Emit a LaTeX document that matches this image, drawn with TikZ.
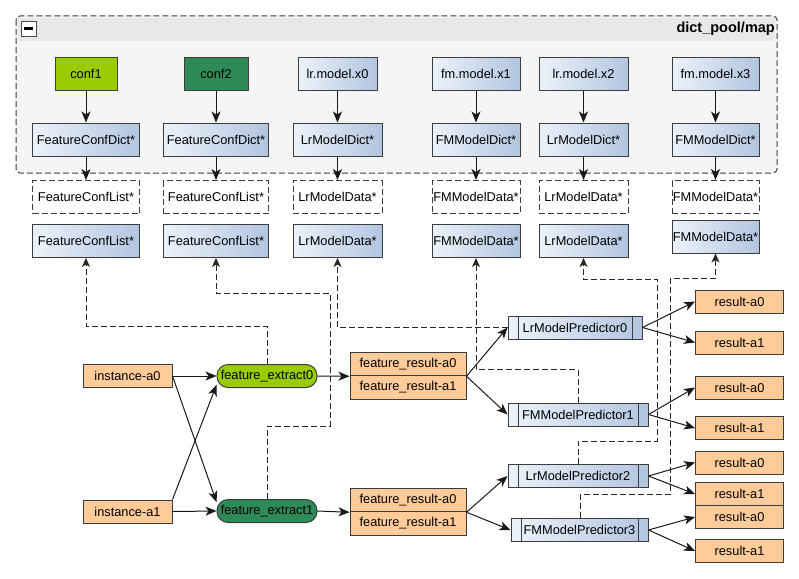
\documentclass[tikz,border=0pt]{standalone}
\usepackage{fontspec}
\setmainfont{Liberation Sans}
\usetikzlibrary{arrows.meta,positioning,calc}
\definecolor{boxl}{RGB}{236,242,250}
\definecolor{boxr}{RGB}{178,197,224}
\definecolor{orng}{RGB}{255,204,153}
\definecolor{confa}{RGB}{153,204,0}
\definecolor{confb}{RGB}{46,139,87}
\definecolor{grp}{RGB}{245,245,245}
\definecolor{hdr}{RGB}{232,232,232}
\definecolor{edge}{RGB}{60,60,60}
\newcommand\fs{\fontsize{12.8}{14}\selectfont}
\tikzset{
  box/.style={draw=edge,line width=1pt,inner sep=0pt,font=\fs,minimum height=23pt},
  modelbox/.style={box,left color=boxl,right color=boxr,minimum height=33pt},
  copybox/.style={box,fill=white,dash pattern=on 6pt off 3pt,minimum height=33pt},
  confa/.style={box,fill=confa,minimum height=33pt},
  confb/.style={box,fill=confb,minimum height=33pt},
  orangebox/.style={box,fill=orng},
  pill/.style={box,rounded corners=11pt,minimum width=100pt},
  pred/.style={box,left color=boxl,right color=boxr,
    path picture={
      \draw[edge,line width=1pt] ([xshift=10pt]path picture bounding box.south west) -- ([xshift=10pt]path picture bounding box.north west);
      \draw[edge,line width=1pt] ([xshift=-10pt]path picture bounding box.south east) -- ([xshift=-10pt]path picture bounding box.north east);}},
  flow/.style={-{Stealth[length=11pt,width=9pt,inset=3pt]},line width=1pt,draw=black!90},
  dep/.style={-{Stealth[length=9pt,width=8pt,inset=2.5pt]},line width=1pt,draw=black!85,dash pattern=on 6pt off 3pt}
}
\begin{document}
\begin{tikzpicture}[x=1pt,y=-1pt]
  \useasboundingbox (0,0) rectangle (799,578);
  % group frame
  \draw[edge,line width=1pt,dash pattern=on 6pt off 3pt,fill=grp,rounded corners=4pt] (16,16) rectangle (777,173);
  \fill[hdr] (18,18) rectangle (775,41);
  \node[draw=black!70,fill=white,minimum size=15pt,inner sep=0pt] (fold) at (28.5,28.5) {};
  \draw[line width=2.5pt] ([xshift=-4.5pt]fold.center) -- ([xshift=4.5pt]fold.center);
  \node[anchor=east,font=\bfseries\fontsize{14.5}{16}\selectfont,inner sep=0pt] (title) at (775,29) {dict\_pool/map};
  % configs, dicts and data
  \foreach \i/\x/\tw/\dw/\dy/\tsty/\tlab/\dlab/\mlab in {
    1/86/62/107/241/confa/conf1/FeatureConfDict*/FeatureConfList*,
    2/216/64/105/241/confb/conf2/FeatureConfDict*/FeatureConfList*,
    3/337.5/79/89/241/modelbox/lr.model.x0/LrModelDict*/LrModelData*,
    4/476/88/88/241/modelbox/fm.model.x1/FMModelDict*/FMModelData*,
    5/583.5/89/89/241/modelbox/lr.model.x2/LrModelDict*/LrModelData*,
    6/715.5/87/87/236.5/modelbox/fm.model.x3/FMModelDict*/FMModelData*}{
    \node[\tsty,minimum width=\tw] (top\i) at (\x,73.5) {\tlab};
    \node[modelbox,minimum width=\dw] (dict\i) at (\x,139.5) {\dlab};
    \node[copybox,minimum width=\dw] (cpy\i) at (\x,197) {\mlab};
    \node[modelbox,minimum width=\dw] (data\i) at (\x,\dy) {\mlab};
    \draw[flow] (top\i) -- (dict\i);
    \draw[flow] (dict\i) -- (cpy\i);
  }
  % instances and feature extraction
  \node[orangebox,minimum width=89] (ia0) at (127.5,376) {instance-a0};
  \node[orangebox,minimum width=89] (ia1) at (127.5,511.5) {instance-a1};
  \node[pill,fill=confa] (fe0) at (267,376) {feature\_extract0};
  \node[pill,fill=confb] (fe1) at (267,511) {feature\_extract1};
  \node[orangebox,minimum width=116,minimum height=23.5] (fr0a) at (408,364) {feature\_result-a0};
  \node[orangebox,minimum width=116,minimum height=23.5] (fr0b) at (408,387.5) {feature\_result-a1};
  \node[orangebox,minimum width=116,minimum height=23.5] (fr1a) at (408,500) {feature\_result-a0};
  \node[orangebox,minimum width=116,minimum height=23.5] (fr1b) at (408,523.5) {feature\_result-a1};
  % predictors
  \node[pred,minimum width=134] (lmp0) at (575,327.5) {LrModelPredictor0};
  \node[pred,minimum width=140] (fmp1) at (578,414.5) {FMModelPredictor1};
  \node[pred,minimum width=140] (lmp2) at (578,476) {LrModelPredictor2};
  \node[pred,minimum width=137] (fmp3) at (579.5,530) {FMModelPredictor3};
  % results
  \foreach \j/\y/\lab in {1/301.5/result-a0,2/342.5/result-a1,3/387.5/result-a0,4/428/result-a1,
    5/462.5/result-a0,6/494/result-a1,7/517/result-a0,8/551/result-a1}{
    \node[orangebox,minimum width=88] (res\j) at (739.5,\y) {\lab};
  }
  % solid flow
  \draw[flow] (ia0.east) -- (fe0.west);
  \draw[flow] (ia0.east) -- (fe1.170);
  \draw[flow] (ia1.north east) -- (fe0.190);
  \draw[flow] (ia1.east) -- (fe1.west);
  \draw[flow] (fe0.east) -- (fr0a.south west);
  \draw[flow] (fe1.east) -- (fr1a.south west);
  \draw[flow] (fr0a.south east) -- (lmp0.west);
  \draw[flow] (fr0a.south east) -- (fmp1.west);
  \draw[flow] (fr1a.south east) -- (lmp2.west);
  \draw[flow] (fr1a.south east) -- (fmp3.west);
  \draw[flow] (lmp0.east) -- (res1.west);
  \draw[flow] (lmp0.east) -- (res2.west);
  \draw[flow] (fmp1.east) -- (res3.west);
  \draw[flow] (fmp1.east) -- (res4.west);
  \draw[flow] (lmp2.east) -- (res5.west);
  \draw[flow] (lmp2.east) -- (res6.west);
  \draw[flow] (fmp3.east) -- (res7.west);
  \draw[flow] (fmp3.east) -- (res8.west);
  % dashed dependencies
  \draw[dep] (fe0.north) -- ++(0,-38) -| (data1.south);
  \draw[dep] (fe1.north) -- ++(0,-73) -| (330,293) -| (data2.south);
  \draw[dep] (lmp0.west) -| (data3.south);
  \draw[dep] (fmp1.north) -- ++(0,-33) -| (data4.south);
  \draw[dep] (lmp2.north) -- ++(0,-23) -| (657,279) -| (data5.south);
  \draw[dep] ([xshift=1pt]fmp3.north) -- ++(0,-24) -| (670,278) -| (data6.south);
\end{tikzpicture}
\end{document}
